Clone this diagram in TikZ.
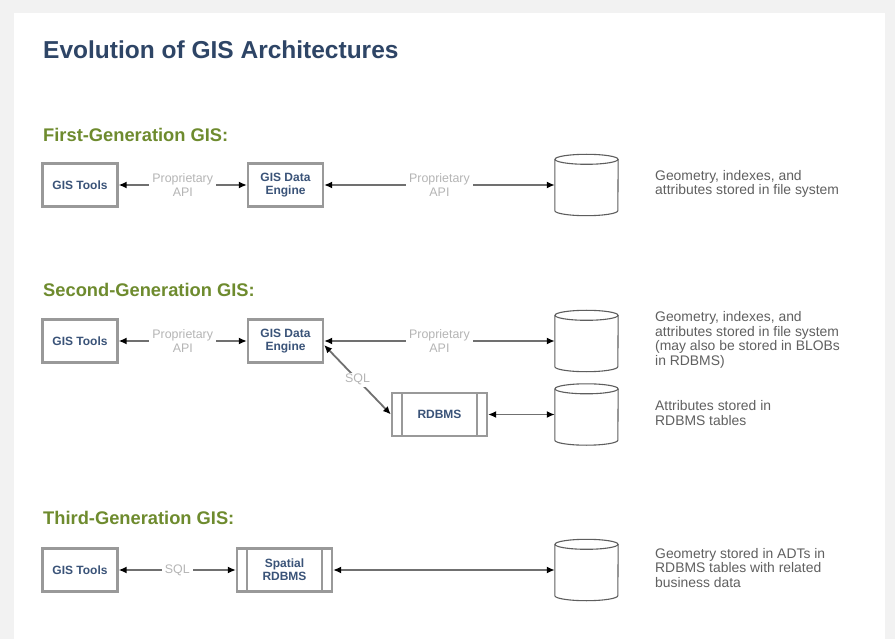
\documentclass[tikz,border=0pt]{standalone}
\usepackage{fontspec}
\setmainfont{Liberation Sans}
\usetikzlibrary{arrows.meta,calc}
\definecolor{navy}{HTML}{2E4566}
\definecolor{olive}{HTML}{6E8B2E}
\definecolor{boxtext}{HTML}{3A5378}
\definecolor{lblgray}{HTML}{B5B5B5}
\definecolor{desc}{HTML}{606060}
\definecolor{bggray}{HTML}{F2F2F2}
\definecolor{boxline}{HTML}{999999}
\definecolor{linegray}{HTML}{707070}
\definecolor{cylgray}{HTML}{5E5E5E}
\newcommand\dbcyl[1]{%
  \draw[cylline] ($(#1.north west)+(0,5)$) -- ($(#1.south west)+(0,-5)$)
    arc[start angle=180,end angle=360,x radius=31.5pt,y radius=5pt]
    -- ($(#1.north east)+(0,5)$);
  \draw[cylline] ($(#1.north)+(0,5)$) ellipse[x radius=31.5pt,y radius=5pt];}
\begin{document}
\begin{tikzpicture}[x=1pt,y=-1pt,
  box/.style={draw=boxline, line width=2.2pt, fill=white, minimum width=75pt, minimum height=43pt, inner sep=0pt, align=center, font=\fontsize{12}{13}\selectfont\bfseries, text=boxtext},
  dbox/.style={box, minimum width=95pt, path picture={\draw[boxline,line width=1.2pt] ([xshift=10pt]path picture bounding box.north west) -- ([xshift=10pt]path picture bounding box.south west) ([xshift=-10pt]path picture bounding box.north east) -- ([xshift=-10pt]path picture bounding box.south east);}},
  db/.style={draw=none, minimum width=63pt, minimum height=61pt, inner sep=0pt},
  cylline/.style={draw=cylgray, line width=1.1pt},
  conn/.style={draw=linegray, line width=1.8pt, {Latex[length=8pt,width=7pt,black]}-{Latex[length=8pt,width=7pt,black]}},
  lbl/.style={fill=white, text=lblgray, align=center, inner sep=3pt, font=\fontsize{12.4}{14}\selectfont},
  hdr/.style={anchor=west, text=olive, font=\fontsize{18.3}{21}\selectfont\bfseries, inner sep=0pt},
  dsc/.style={anchor=west, text=desc, align=left, font=\fontsize{13.9}{14.5}\selectfont, inner sep=0pt},
  ttl/.style={anchor=west, text=navy, font=\fontsize{24.5}{28}\selectfont\bfseries, inner sep=0pt}
]
\useasboundingbox (0,0) rectangle (895,639);
\fill[bggray] (0,0) rectangle (895,639);
\fill[white] (14,13) rectangle (885,639);

\node[ttl] (title) at (43,50) {Evolution of GIS Architectures};

% First generation
\node[hdr] (h1) at (43,135) {First-Generation GIS:};
\node[box] (t1) at (80,185) {GIS Tools};
\node[box] (e1) at (285.5,185) {GIS Data\\Engine};
\node[db] (c1) at (586.5,185) {};
\dbcyl{c1}
\node[dsc] (d1) at (655,184) {Geometry, indexes, and\\attributes stored in file system};
\draw[conn] (t1) -- (e1) node[midway,lbl] {Proprietary\\API};
\draw[conn] (e1) -- (c1) node[midway,lbl] {Proprietary\\API};

% Second generation
\node[hdr] (h2) at (43,290) {Second-Generation GIS:};
\node[box] (t2) at (80,341) {GIS Tools};
\node[box] (e2) at (285.5,341) {GIS Data\\Engine};
\node[db] (c2) at (586.5,341) {};
\dbcyl{c2}
\node[dsc] (d2) at (655,340) {Geometry, indexes, and\\attributes stored in file system\\(may also be stored in BLOBs\\in RDBMS)};
\draw[conn] (t2) -- (e2) node[midway,lbl] {Proprietary\\API};
\draw[conn] (e2) -- (c2) node[midway,lbl] {Proprietary\\API};
\node[dbox] (r2) at (439.5,414.5) {RDBMS};
\node[db] (c2b) at (586.5,414.5) {};
\dbcyl{c2b}
\node[dsc] (d2b) at (655,413) {Attributes stored in\\RDBMS tables};
\draw[conn] ($(e2.east)+(0,4)$) -- (r2.west) node[midway,lbl,inner sep=1.5pt] {SQL};
\draw[conn] (r2) -- (c2b);

% Third generation
\node[hdr] (h3) at (43,518) {Third-Generation GIS:};
\node[box] (t3) at (80,570) {GIS Tools};
\node[dbox] (s3) at (284.5,570) {Spatial\\RDBMS};
\node[db] (c3) at (586.5,570) {};
\dbcyl{c3}
\node[dsc] (d3) at (655,568) {Geometry stored in ADTs in\\RDBMS tables with related\\business data};
\draw[conn] (t3) -- (s3) node[midway,lbl] {SQL};
\draw[conn] (s3) -- (c3);
\end{tikzpicture}
\end{document}
